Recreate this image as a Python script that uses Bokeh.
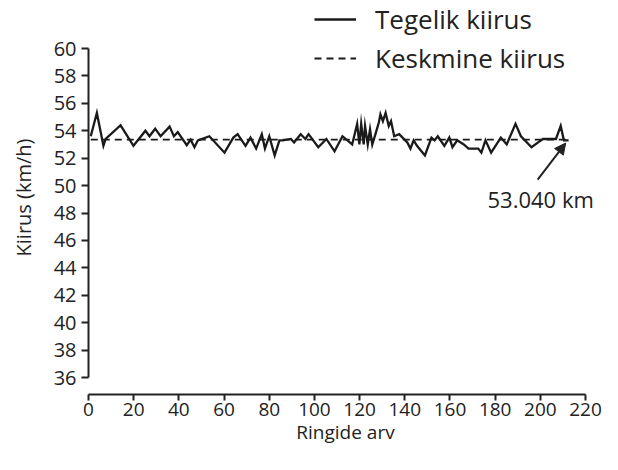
from bokeh.plotting import figure
from bokeh.models import Range1d, FixedTicker, Legend, LegendItem, Arrow, NormalHead, Label
from bokeh.embed import file_html
from bokeh.resources import INLINE

# ---- data ----
laps = [1, 3.7, 6.6, 7.6, 14.2, 19.9, 25.2, 27.0, 29.5, 31.9,
        35.9, 37.8, 39.5, 43.5, 45.2, 46.9, 48.4, 53.5, 60.2, 64.1,
        66.0, 69.5, 71.7, 74.2, 76.7, 78.1, 80.0, 82.4, 84.5, 86.0,
        89.6, 91.0, 93.9, 96.0, 97.4, 101.7, 105.3, 108.9, 112.4, 116.7,
        118.9, 119.9, 120.7, 121.8, 122.4, 123.6, 124.6, 125.6, 127.0, 128.5,
        129.2, 130.3, 131.5, 132.9, 133.9, 135.3, 137.5, 141.1, 142.5, 143.9,
        145.4, 148.9, 151.8, 153.2, 154.6, 157.5, 159.7, 161.1, 163.2, 166.1,
        168.2, 172.5, 173.9, 175.7, 178.2, 182.5, 185.1, 189.0, 191.4, 196.1,
        199.0, 201.2, 206.9, 209.0, 210.4, 212.5]
speed = [53.6, 55.3, 52.9, 53.4, 54.4, 52.9, 54.0, 53.6, 54.15, 53.6,
         54.3, 53.6, 53.9, 52.95, 53.35, 52.8, 53.3, 53.6, 52.4, 53.5,
         53.75, 52.9, 53.5, 52.7, 53.75, 52.7, 53.6, 52.2, 53.3, 53.3,
         53.4, 53.15, 53.75, 53.4, 53.75, 52.8, 53.4, 52.5, 53.6, 53.0,
         54.5, 53.0, 54.5, 53.0, 54.35, 53.0, 54.1, 53.0, 53.75, 54.6,
         55.2, 54.7, 55.3, 54.35, 54.7, 53.6, 53.75, 53.15, 52.7, 53.3,
         52.9, 52.2, 53.5, 53.3, 53.6, 52.9, 53.5, 52.8, 53.3, 53.0,
         52.7, 52.7, 52.4, 53.3, 52.4, 53.5, 53.0, 54.5, 53.6, 52.8,
         53.15, 53.4, 53.4, 54.35, 53.3, 53.3]
avg_speed = 53.35
avg_label = "53.040 km"
x_ticks = list(range(0, 221, 20))
y_ticks = list(range(36, 61, 2))
legend_labels = ["Tegelik kiirus", "Keskmine kiirus"]
x_title = "Ringide arv"
y_title = "Kiirus (km/h)"

FONT = "Open Sans"
INK = "#222222"

p = figure(width=602, height=454,
           x_range=Range1d(0, 227.5), y_range=Range1d(34.760, 63.502),
           output_backend="svg", toolbar_location=None,
           min_border_left=88, min_border_right=0,
           min_border_top=0, min_border_bottom=60)
p.outline_line_color = None
p.grid.visible = False
p.background_fill_color = "white"
p.border_fill_color = "white"

r_line = p.line(laps, speed, line_color="#1a1a1a", line_width=2.3, line_join="miter")
r_avg = p.line([laps[0], laps[-1]], [avg_speed, avg_speed], line_color="#1a1a1a",
               line_width=1.9, line_dash="7 5")

for ax in (p.xaxis[0], p.yaxis[0]):
    ax.axis_line_color = INK
    ax.axis_line_width = 2
    ax.major_tick_line_color = INK
    ax.major_tick_line_width = 2
    ax.major_tick_in = 0
    ax.minor_tick_line_color = None
    ax.major_label_text_font = FONT
    ax.major_label_text_color = INK
    ax.axis_label_text_font = FONT
    ax.axis_label_text_font_style = "normal"
    ax.axis_label_text_color = INK

p.yaxis.major_tick_out = 7
p.xaxis.major_tick_out = 6
p.yaxis.major_label_text_font_size = "20px"
p.xaxis.major_label_text_font_size = "19px"
p.yaxis.axis_label_text_font_size = "20px"
p.xaxis.axis_label_text_font_size = "19px"
p.xaxis.ticker = FixedTicker(ticks=x_ticks)
p.yaxis.ticker = FixedTicker(ticks=y_ticks)
p.xaxis.bounds = (x_ticks[0], x_ticks[-1])
p.yaxis.bounds = (y_ticks[0], y_ticks[-1])
p.xaxis.axis_label = x_title
p.yaxis.axis_label = y_title
p.xaxis.major_label_standoff = 2
p.yaxis.major_label_standoff = 5
p.xaxis.axis_label_standoff = 0
p.yaxis.axis_label_standoff = 14

legend = Legend(items=[LegendItem(label=legend_labels[0], renderers=[r_line]),
                       LegendItem(label=legend_labels[1], renderers=[r_avg])],
                location=(226, 318), orientation="vertical",
                label_text_font=FONT, label_text_font_size="26px",
                label_text_color=INK, glyph_width=42, glyph_height=20,
                label_standoff=19, spacing=3, padding=0, margin=0,
                border_line_color=None, background_fill_alpha=0)
p.add_layout(legend, "center")

p.add_layout(Arrow(end=NormalHead(size=11, fill_color=INK, line_color=INK),
                   x_start=198.8, y_start=50.44, x_end=211.2, y_end=53.1,
                   line_color=INK, line_width=2))
p.add_layout(Label(x=176.6, y=50.15, text=avg_label, text_font=FONT,
                   text_font_size="22px", text_color=INK, text_baseline="top"))

open("out.html", "w").write(file_html(p, INLINE))
